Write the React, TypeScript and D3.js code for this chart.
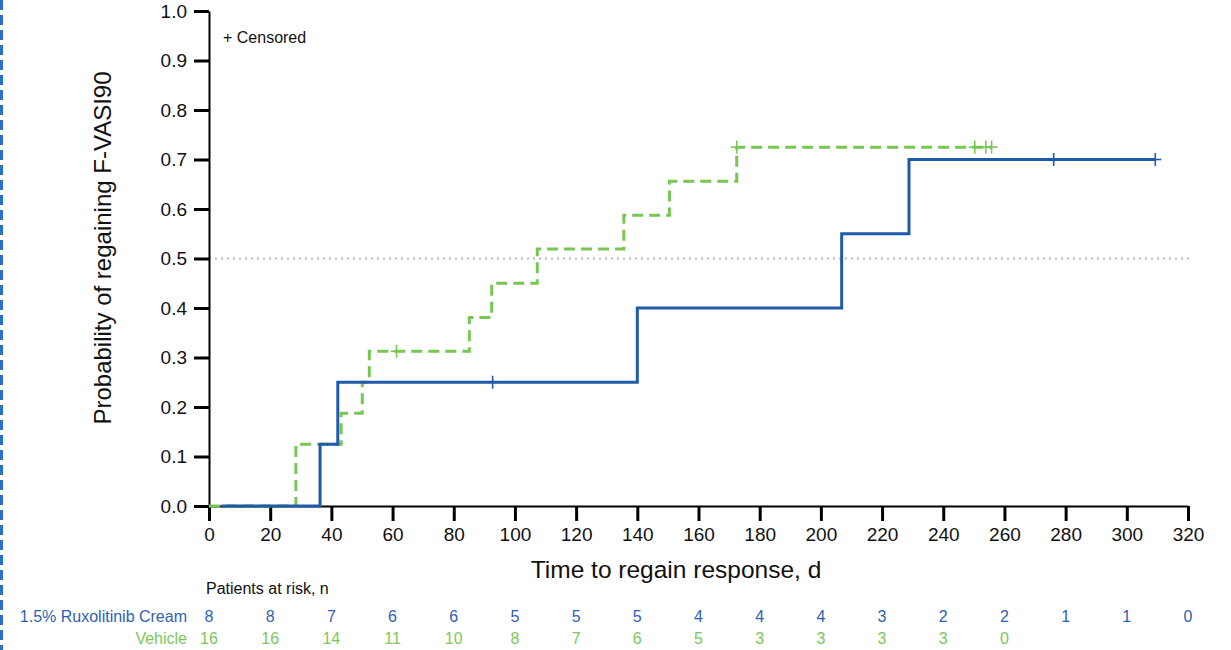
import React, { useRef, useEffect } from 'react'
import * as d3 from 'd3'

// step points: [day, cumulative probability of regaining F-VASI90]
const rxTimes = [4, 36.3, 42.1, 140, 206.8, 228.8]
const rxProb = [0, 0.125, 0.25, 0.4, 0.55, 0.7]
const rxCensored = [92.7, 276.1, 309.3]

const vehTimes = [0, 28.4, 43.2, 50.1, 52.4, 85.1, 92.4, 107.3, 135.6, 150.5, 172.5]
const vehProb = [0, 0.125, 0.1875, 0.25, 0.3125, 0.381, 0.45, 0.519, 0.5875, 0.656, 0.725]
const vehCensored = [61.3, 172.5, 250.3, 253.9, 255.8]

const xTicks = d3.range(0, 321, 20)
const yTicks = d3.range(0, 1.01, 0.1)

const rxAtRisk = [8, 8, 7, 6, 6, 5, 5, 5, 4, 4, 4, 3, 2, 2, 1, 1, 0]
const vehAtRisk = [16, 16, 14, 11, 10, 8, 7, 6, 5, 3, 3, 3, 3, 0]

const BLUE = '#1f5aab'
const GREEN = '#78c653'
const FONT = '"Liberation Sans", Arial, sans-serif'

export default function App() {
  const svgRef = useRef<SVGSVGElement>(null)

  useEffect(() => {
    if (!svgRef.current) return
    const svg = d3.select(svgRef.current)
    svg.selectAll('*').remove()

    const x = d3.scaleLinear().domain([0, 320]).range([209, 1188])
    const y = d3.scaleLinear().domain([0, 1]).range([506, 11])

    // dashed frame edge on the left
    svg.append('line')
      .attr('x1', 1.5).attr('x2', 1.5).attr('y1', 0).attr('y2', 650)
      .attr('stroke', '#2a72c9').attr('stroke-width', 3)
      .attr('stroke-dasharray', '10,5')

    // median reference
    svg.append('line')
      .attr('x1', x(0)).attr('x2', x(320) + 4)
      .attr('y1', y(0.5)).attr('y2', y(0.5))
      .attr('stroke', '#b8b8b8').attr('stroke-width', 2)
      .attr('stroke-dasharray', '2,4')

    // axes
    const yAxis = svg.append('g')
      .attr('transform', `translate(${x(0)},0)`)
      .call(d3.axisLeft(y).tickValues(yTicks).tickFormat(d3.format('.1f')).tickSize(15).tickSizeOuter(0).tickPadding(7))
    yAxis.select('.domain').attr('stroke', '#000').attr('stroke-width', 2)
    yAxis.selectAll('.tick line').attr('stroke', '#000').attr('stroke-width', 3)
    yAxis.selectAll('text').attr('font-family', FONT).attr('font-size', 19).attr('fill', '#111')

    const xAxis = svg.append('g')
      .attr('transform', `translate(0,${y(0)})`)
      .call(d3.axisBottom(x).tickValues(xTicks).tickSize(15).tickSizeOuter(0).tickPadding(7))
    xAxis.select('.domain').attr('stroke', '#000').attr('stroke-width', 2)
    xAxis.selectAll('.tick line').attr('stroke', '#000').attr('stroke-width', 3)
    xAxis.selectAll('text').attr('font-family', FONT).attr('font-size', 19).attr('fill', '#111')

    const line = d3.line<[number, number]>()
      .x(d => x(d[0]))
      .y(d => y(d[1]))
      .curve(d3.curveStepAfter)

    const series = [
      { times: vehTimes, prob: vehProb, cens: vehCensored, color: GREEN, dash: '11,6' },
      { times: rxTimes, prob: rxProb, cens: rxCensored, color: BLUE, dash: null },
    ]

    series.forEach(s => {
      const pts: [number, number][] = s.times.map((t, i) => [t, s.prob[i]])
      const last = d3.max(s.cens) ?? 0
      pts.push([last, s.prob[s.prob.length - 1]])
      svg.append('path')
        .datum(pts)
        .attr('fill', 'none')
        .attr('stroke', s.color)
        .attr('stroke-width', 3)
        .attr('stroke-dasharray', s.dash)
        .attr('d', line)

      const stepAt = (t: number) => {
        const i = d3.bisectRight(s.times, t) - 1
        return s.prob[Math.max(0, i)]
      }
      s.cens.forEach(c => {
        const cx = x(c)
        const cy = y(stepAt(c))
        const g = svg.append('g').attr('stroke', s.color).attr('stroke-width', 1.6)
        g.append('line').attr('x1', cx).attr('x2', cx).attr('y1', cy - 6.5).attr('y2', cy + 6.5)
        g.append('line').attr('x1', cx - 6).attr('x2', cx + 6).attr('y1', cy).attr('y2', cy)
      })
    })

    svg.append('text')
      .attr('x', 223).attr('y', 43)
      .attr('font-family', FONT).attr('font-size', 16).attr('fill', '#111')
      .text('+ Censored')

    svg.append('text')
      .attr('transform', 'translate(111,248) rotate(-90)')
      .attr('text-anchor', 'middle')
      .attr('font-family', FONT).attr('font-size', 24).attr('fill', '#111')
      .text('Probability of regaining F-VASI90')

    svg.append('text')
      .attr('x', 676).attr('y', 578)
      .attr('text-anchor', 'middle')
      .attr('font-family', FONT).attr('font-size', 24.5).attr('fill', '#111')
      .text('Time to regain response, d')

    // patients at risk table
    svg.append('text')
      .attr('x', 206).attr('y', 594)
      .attr('font-family', FONT).attr('font-size', 16).attr('fill', '#111')
      .text('Patients at risk, n')

    const rows = [
      { label: '1.5% Ruxolitinib Cream', vals: rxAtRisk, color: '#2e62b2', yy: 622 },
      { label: 'Vehicle', vals: vehAtRisk, color: '#7cc858', yy: 644 },
    ]
    rows.forEach(r => {
      svg.append('text')
        .attr('x', 187).attr('y', r.yy)
        .attr('text-anchor', 'end')
        .attr('font-family', FONT).attr('font-size', 16).attr('fill', r.color)
        .text(r.label)
      svg.append('g').selectAll('text')
        .data(r.vals)
        .join('text')
        .attr('x', (_, i) => x(xTicks[i]))
        .attr('y', r.yy)
        .attr('text-anchor', 'middle')
        .attr('font-family', FONT).attr('font-size', 16).attr('fill', r.color)
        .text(d => d)
    })
  }, [])

  return (
    <svg
      ref={svgRef}
      width={1231}
      height={650}
      style={{ position: 'absolute', left: 0, top: 0, background: '#fff' }}
    />
  )
}
